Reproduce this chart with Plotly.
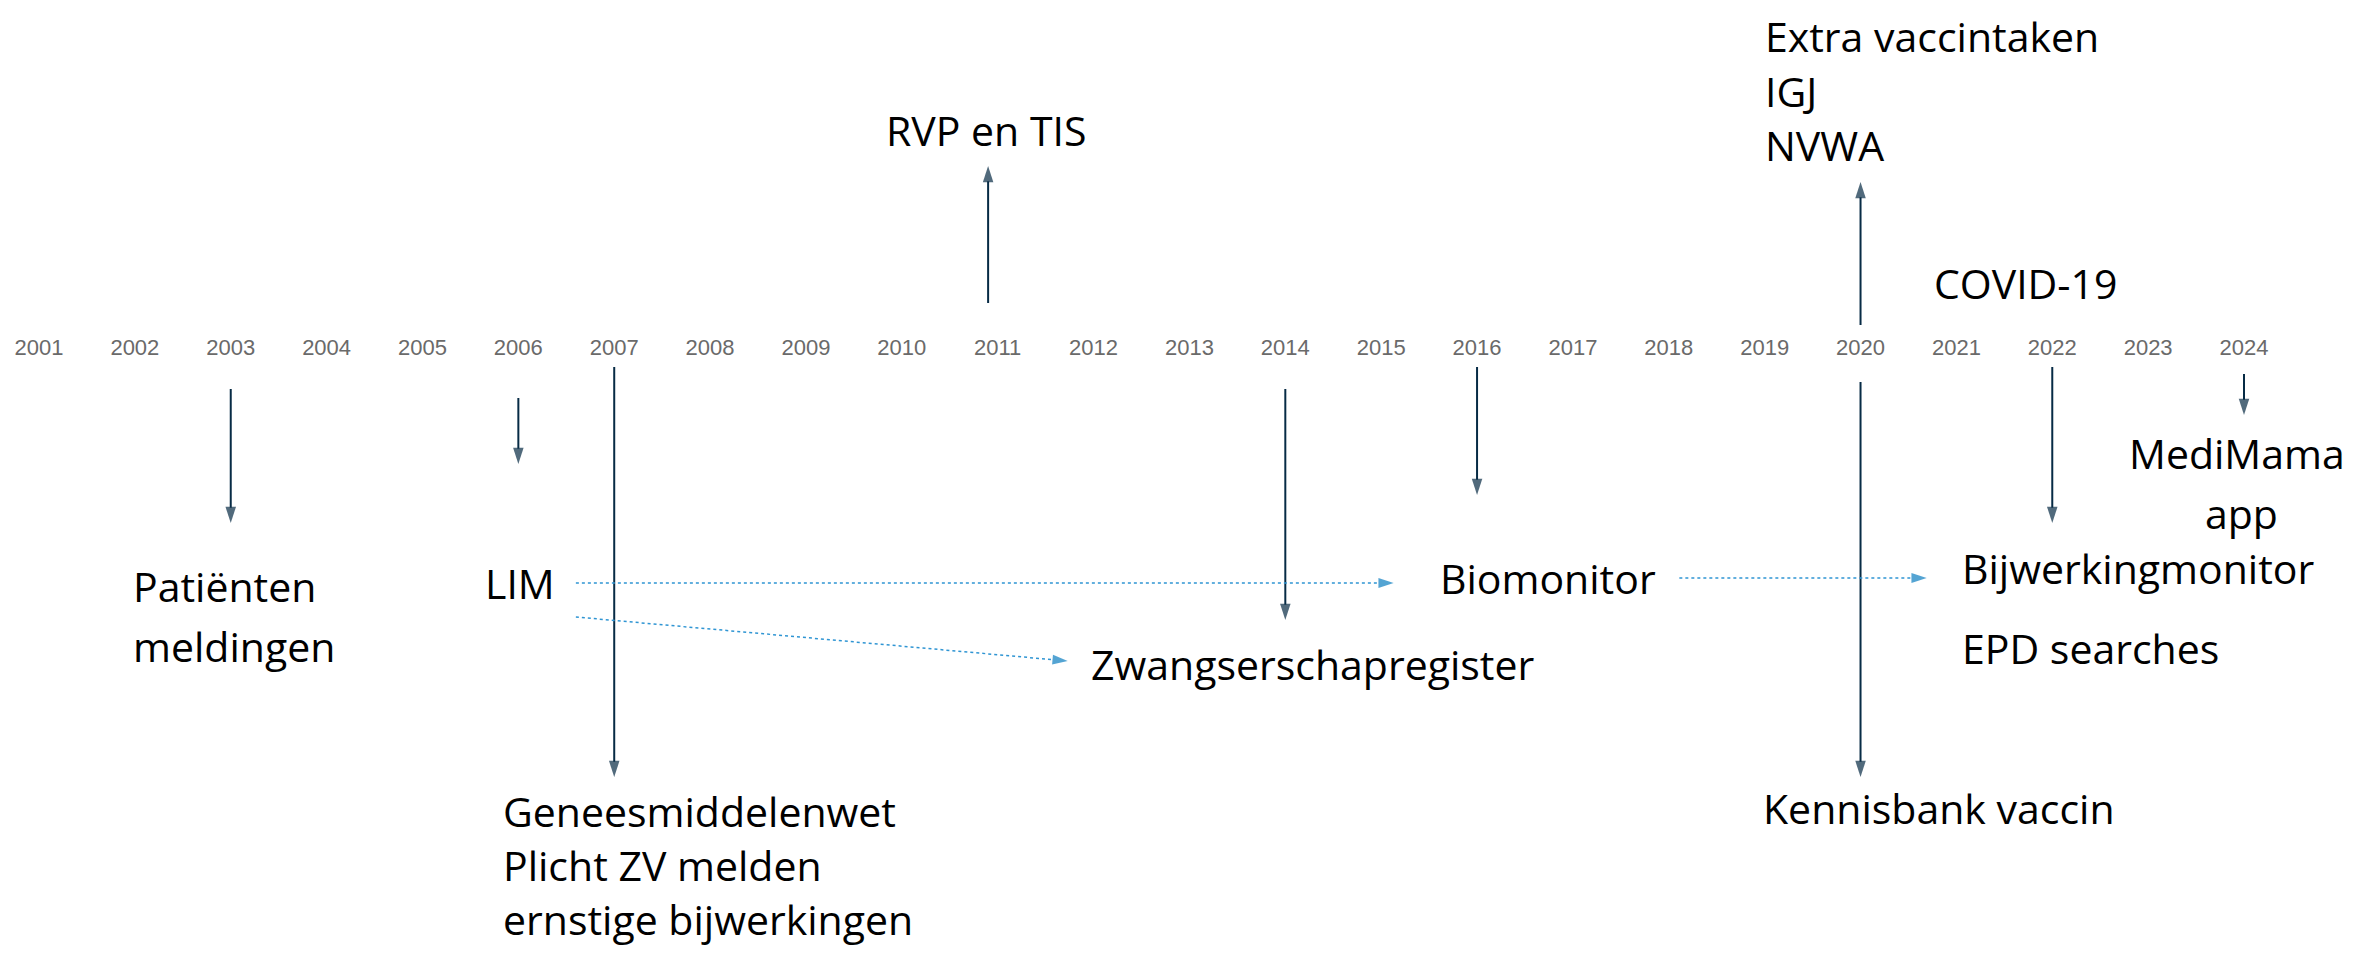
import plotly.graph_objects as go

# ---------------- data ----------------
years = list(range(2001, 2025))
year_labels = [str(y) for y in years]

# vertical event arrows: year of event, start level, end level (vertical layout units = px from top)
arrow_years = [2003, 2006, 2007, 2011, 2014, 2016, 2020, 2020, 2022, 2024]
arrow_start = [389, 398, 367, 303, 389, 367, 325, 382, 367, 374]
arrow_end = [523, 464, 777, 166, 620, 495, 182, 777, 523, 415]

# dotted "evolved into" links (from year, to year, from level, to level)
link_from_year = [2006.60, 2006.60, 2018.11]
link_to_year = [2015.13, 2011.73, 2020.69]
link_from_lvl = [583, 617, 578]
link_to_lvl = [583, 661, 578]

# labels
label_text = [
    "Patiënten", "meldingen", "LIM",
    "Geneesmiddelenwet", "Plicht ZV melden", "ernstige bijwerkingen",
    "RVP en TIS", "Zwangserschapregister", "Biomonitor",
    "Extra vaccintaken", "IGJ", "NVWA", "COVID-19",
    "Kennisbank vaccin", "Bijwerkingmonitor", "EPD searches",
    "MediMama", "app",
]
label_year = [
    2001.97, 2001.97, 2005.64,
    2005.83, 2005.83, 2005.83,
    2010.88, 2011.96, 2015.60,
    2018.99, 2018.99, 2018.99, 2020.76,
    2018.97, 2021.05, 2021.05,
    2023.93, 2023.97,
]
label_lvl = [
    586, 646, 583,
    811, 865, 919,
    130, 664, 578,
    36, 91, 145, 283,
    808, 568, 648,
    453, 513,
]
label_anchor = [
    "left", "left", "left",
    "left", "left", "left",
    "center", "left", "left",
    "left", "left", "left", "left",
    "left", "left", "left",
    "center", "center",
]

# ---------------- style / layout ----------------
W, H = 2366, 956
PAGE_MARGIN = 8  # browser default body margin
ARROW_COL = "#072B45"
LINK_COL = "#2F95D3"
LINK_HEAD = "#0B7DC1"
TEXT_FONT = "Open Sans, Liberation Sans, sans-serif"
YEAR_FONT = "Liberation Sans, Arial, sans-serif"
axis_level = 349
arrow_dx = {2011: -0.1}

fig = go.Figure()

# year labels along the timeline
fig.add_trace(go.Scatter(
    x=years, y=[axis_level] * len(years), mode="text", text=year_labels,
    textposition="middle center",
    textfont=dict(family=YEAR_FONT, size=22, color="#6a6a6a"),
    hoverinfo="skip", showlegend=False,
))

# vertical arrows
for yr, y0, y1 in zip(arrow_years, arrow_start, arrow_end):
    xx = yr + arrow_dx.get(yr, 0)
    fig.add_trace(go.Scatter(
        x=[xx, xx], y=[y0, y1], mode="lines+markers",
        line=dict(color=ARROW_COL, width=2),
        marker=dict(symbol="arrow", angleref="previous", size=[0, 17], color=ARROW_COL,
                    line=dict(width=0)),
        hoverinfo="skip", showlegend=False,
    ))

# dotted links
for xa, xb, ya, yb in zip(link_from_year, link_to_year, link_from_lvl, link_to_lvl):
    fig.add_trace(go.Scatter(
        x=[xa, xb], y=[ya, yb], mode="lines+markers",
        line=dict(color=LINK_COL, width=1.5, dash="dot"),
        marker=dict(symbol="arrow", angleref="previous", size=[0, 16], color=LINK_HEAD,
                    line=dict(width=0)),
        hoverinfo="skip", showlegend=False,
    ))

# text labels
for t, xv, yv, anc in zip(label_text, label_year, label_lvl, label_anchor):
    fig.add_annotation(
        x=xv, y=yv, xref="x", yref="y", text=t, showarrow=False,
        xanchor=anc, yanchor="middle", borderpad=0,
        font=dict(family=TEXT_FONT, size=41, color="#000000"),
    )

px_per_year = 95.87
x_first_px = 39
fw, fh = W - 2 * PAGE_MARGIN, H - 2 * PAGE_MARGIN
x0 = 2001 + (PAGE_MARGIN - x_first_px) / px_per_year
x1 = 2001 + (PAGE_MARGIN + fw - x_first_px) / px_per_year

fig.update_layout(
    width=fw, height=fh,
    margin=dict(l=0, r=0, t=0, b=0),
    paper_bgcolor="white", plot_bgcolor="white",
    xaxis=dict(range=[x0, x1], visible=False, fixedrange=True),
    yaxis=dict(range=[PAGE_MARGIN + fh, PAGE_MARGIN], visible=False, fixedrange=True),
    hovermode=False,
)

fig.write_html("out.html")
